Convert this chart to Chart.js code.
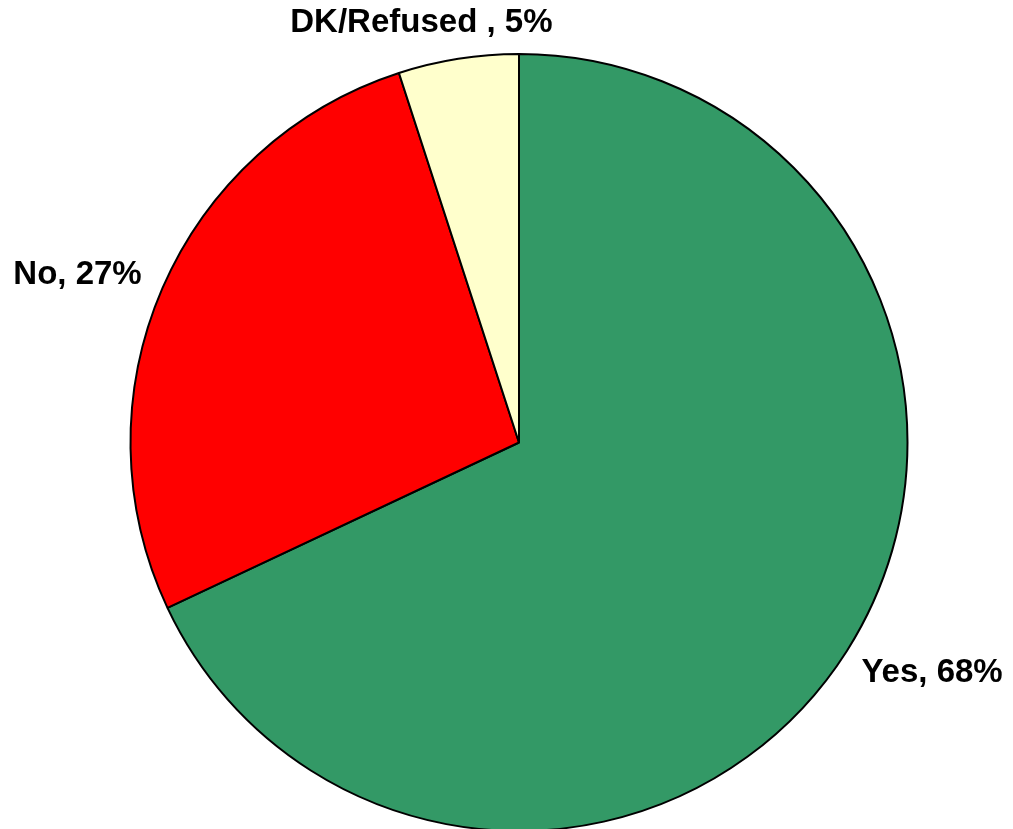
<!DOCTYPE html>
<html>
<head>
<meta charset="utf-8">
<script src="https://cdn.jsdelivr.net/npm/chart.js@4"></script>
<style>
  html, body { margin: 0; padding: 0; background: #fff; overflow: hidden; }
  #wrap { width: 1013px; height: 832px; }
</style>
</head>
<body>
<div id="wrap"><canvas id="pieChart"></canvas></div>
<script>
const labels = ['Yes', 'No', 'DK/Refused '];
const values = [68, 27, 5];
const colors = ['#339966', '#FF0000', '#FFFFCC'];

// draws "Label, NN%" outside each slice, pushed away along the slice's mid angle
const outsideLabels = {
    id: 'outsideLabels',
    afterDatasetsDraw(chart) {
        const ctx = chart.ctx;
        const meta = chart.getDatasetMeta(0);
        ctx.save();
        ctx.font = 'bold 33px "Liberation Sans", Arial, sans-serif';
        ctx.fillStyle = '#000';
        ctx.textAlign = 'center';
        ctx.textBaseline = 'middle';
        meta.data.forEach((arc, i) => {
            const p = arc.getProps(['x', 'y', 'startAngle', 'endAngle', 'outerRadius'], true);
            const mid = (p.startAngle + p.endAngle) / 2;
            const cos = Math.cos(mid), sin = Math.sin(mid);
            const text = labels[i] + ', ' + values[i] + '%';
            const w = ctx.measureText(text).width;
            const h = 23;
            const r = p.outerRadius + 27;
            const hx = Math.sign(cos) * Math.pow(Math.abs(cos), 0.75);
            const cx = p.x + r * cos + (w / 2) * hx;
            const cy = p.y + r * sin + (h / 2) * sin + 2;
            ctx.fillText(text, cx, cy);
        });
        ctx.restore();
    }
};

new Chart(document.getElementById('pieChart').getContext('2d'), {
    type: 'pie',
    data: {
        labels: labels,
        datasets: [{
            data: values,
            backgroundColor: colors,
            borderColor: '#000',
            borderWidth: 2
        }]
    },
    options: {
        responsive: true,
        maintainAspectRatio: false,
        animation: false,
        layout: { padding: { top: 53, left: 25, right: 0, bottom: 0 } },
        plugins: {
            legend: { display: false },
            tooltip: { enabled: false }
        }
    },
    plugins: [outsideLabels]
});
</script>
</body>
</html>
